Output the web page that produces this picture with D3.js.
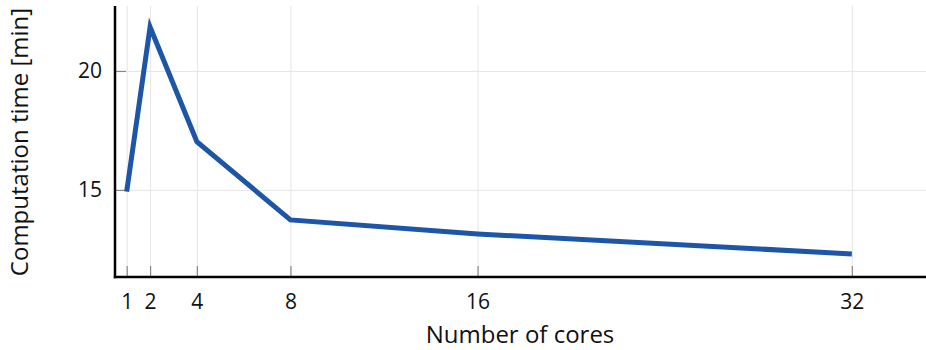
<!DOCTYPE html>
<meta charset="utf-8">
<head>
	<script src="https://d3js.org/d3.v7.min.js"></script>
</head>
<style>
	body {
		margin: 0;
		background: #fff;
	}
	text {
		font-family: "Open Sans", "DejaVu Sans", sans-serif;
		fill: #111;
	}
	.grid line {
		stroke: #e6e6e6;
		stroke-width: 1px;
	}
	.line {
		fill: none;
		stroke: #1d55a7;
		stroke-width: 5px;
		stroke-linejoin: miter;
	}
</style>
<body>
<div id="container"></div>
<script>
	// data
	var cores = [1, 2, 4, 8, 16, 32];
	var minutes = [14.93, 21.85, 17.03, 13.74, 13.15, 12.31];
	var xTicks = [1, 2, 4, 8, 16, 32];
	var yTicks = [15, 20];

	var width = 926, height = 350;
	var plotLeft = 115, plotRight = 926, plotTop = 6, plotBottom = 277;

	var svg = d3.select("#container").append("svg")
		.attr("width", width)
		.attr("height", height);

	var x = d3.scaleLinear()
		.domain([0.5, 35.17])
		.range([plotLeft, plotRight]);
	var y = d3.scaleLinear()
		.domain([11.34, 22.73])
		.range([plotBottom, plotTop]);

	// grid
	var grid = svg.append("g").attr("class", "grid");
	grid.selectAll(".vx")
		.data(xTicks)
		.enter().append("line")
		.attr("x1", d => x(d) + 0.5).attr("x2", d => x(d) + 0.5)
		.attr("y1", plotTop).attr("y2", plotBottom);
	grid.selectAll(".hy")
		.data(yTicks)
		.enter().append("line")
		.attr("x1", plotLeft).attr("x2", plotRight)
		.attr("y1", d => y(d) + 0.5).attr("y2", d => y(d) + 0.5);

	// Add the X Axis
	var xAxis = d3.axisBottom(x)
		.tickValues(xTicks)
		.tickSizeInner(-11)
		.tickSizeOuter(0)
		.tickPadding(17);
	var gx = svg.append("g")
		.attr("transform", "translate(0," + plotBottom + ")")
		.call(xAxis);
	gx.select(".domain").remove();
	gx.selectAll(".tick line").attr("stroke", "#888").attr("stroke-width", 1.2);
	gx.selectAll(".tick text").style("font-size", "21px");

	// Add the Y Axis
	var yAxis = d3.axisLeft(y)
		.tickValues(yTicks)
		.tickSizeInner(-11)
		.tickSizeOuter(0)
		.tickPadding(13);
	var gy = svg.append("g")
		.attr("transform", "translate(" + plotLeft + ",0)")
		.call(yAxis);
	gy.select(".domain").remove();
	gy.selectAll(".tick line").attr("stroke", "#888").attr("stroke-width", 1.2);
	gy.selectAll(".tick text").style("font-size", "21px");

	// spines
	svg.append("line")
		.attr("x1", plotLeft).attr("x2", plotLeft)
		.attr("y1", plotTop).attr("y2", plotBottom + 1.2)
		.attr("stroke", "#000").attr("stroke-width", 2.5);
	svg.append("line")
		.attr("x1", plotLeft - 1.2).attr("x2", plotRight)
		.attr("y1", plotBottom).attr("y2", plotBottom)
		.attr("stroke", "#000").attr("stroke-width", 2.5);

	// the line
	var line = d3.line()
		.x((d, i) => x(cores[i]))
		.y(d => y(d));
	svg.append("path")
		.attr("class", "line")
		.attr("d", line(minutes));

	// axis labels
	svg.append("text")
		.attr("x", 520).attr("y", 343)
		.attr("text-anchor", "middle")
		.style("font-size", "24px")
		.text("Number of cores");
	svg.append("text")
		.attr("transform", "translate(28,142) rotate(-90)")
		.attr("text-anchor", "middle")
		.style("font-size", "24px")
		.text("Computation time [min]");
</script>
</body>
